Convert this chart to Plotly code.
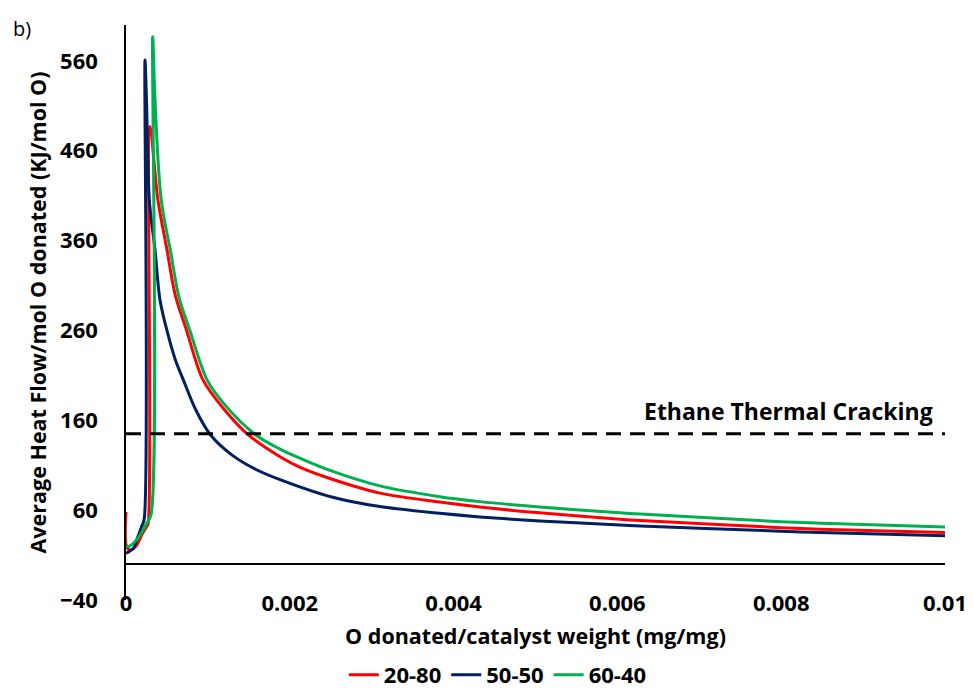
import plotly.graph_objects as go

# ---- data ----
x_2080 = [0, 0.000005, 0.00005, 0.00013, 0.00019, 0.00025, 0.00027, 0.000293, 0.00039, 0.0005,
          0.0006, 0.00074, 0.00094, 0.0012, 0.00149, 0.00188, 0.00212, 0.0025, 0.0031, 0.00383,
          0.00432, 0.00505, 0.00603, 0.00628, 0.008, 0.00847, 0.01]
y_2080 = [58, 20, 15.6, 21, 32, 41.5, 45, 487, 405, 350,
          300, 260, 205, 172, 144, 119.5, 108, 95, 79, 69,
          63.5, 57, 50, 48.5, 40.5, 38.8, 35]

x_5050 = [0, 0.00003, 0.00009, 0.00013, 0.00019, 0.000222, 0.000232, 0.00025, 0.000285, 0.000354,
          0.000415, 0.0005, 0.0006, 0.0007, 0.00085, 0.00103, 0.0013, 0.0016, 0.00188, 0.0025,
          0.0031, 0.00383, 0.00432, 0.00505, 0.00603, 0.00628, 0.008, 0.00847, 0.01]
y_5050 = [12, 13.5, 17.5, 26.7, 41.5, 50, 561, 517, 405, 350,
          294, 260, 228, 205, 172, 144, 121, 104.7, 94, 75,
          64, 56.5, 52.5, 48, 43.5, 42.5, 36.5, 35, 31.5]

x_6040 = [0, 0.000024, 0.00013, 0.00025, 0.000305, 0.000326, 0.000354, 0.00043, 0.00054, 0.00065,
          0.00078, 0.00099, 0.0012, 0.00158, 0.00188, 0.00212, 0.0025, 0.0031, 0.00383, 0.00432,
          0.00505, 0.00603, 0.00628, 0.008, 0.0085, 0.01]
y_6040 = [21, 19.3, 27, 45, 55, 587, 517, 405, 350, 296,
          260, 205, 178, 144, 128, 118, 104, 87, 75, 69.5,
          63.5, 57, 55.6, 47.2, 45.5, 41.2]

cracking_x = [0, 0.01]
cracking_y = [145, 145]

series_names = ["20-80", "50-50", "60-40"]
series_colors = ["#FF0000", "#002060", "#00B050"]

x_ticks = [0, 0.002, 0.004, 0.006, 0.008, 0.01]
x_tick_text = ["0", "0.002", "0.004", "0.006", "0.008", "0.01"]
y_ticks = [-40, 60, 160, 260, 360, 460, 560]

FONT = "Open Sans"
L, R, T, B = 126, 28, 25, 96
PW, PH = 973 - L - R, 696 - T - B

fig = go.Figure()
for name, xs, ys, col in zip(series_names, [x_2080, x_5050, x_6040],
                             [y_2080, y_5050, y_6040], series_colors):
    fig.add_trace(go.Scatter(x=xs, y=ys, mode="lines", name=name,
                             line=dict(color=col, width=3, shape="spline", smoothing=0.9)))

fig.add_trace(go.Scatter(x=cracking_x, y=cracking_y, mode="lines", showlegend=False,
                         line=dict(color="black", width=3, dash="15px,9px"),
                         hoverinfo="skip"))

fig.add_annotation(x=0.00988, y=170, xref="x", yref="y", text="<b>Ethane Thermal Cracking</b>",
                   showarrow=False, xanchor="right", yanchor="middle",
                   font=dict(family=FONT, size=23, color="black"))

fig.add_annotation(x=(11 - L) / PW, y=(696 - B - 28) / PH, xref="paper", yref="paper",
                   text="b)", showarrow=False, xanchor="left", yanchor="middle",
                   font=dict(family=FONT, size=20, color="black"))

fig.update_layout(
    width=973, height=696,
    margin=dict(l=L, r=R, t=T, b=B, autoexpand=False),
    paper_bgcolor="white", plot_bgcolor="white",
    font=dict(family=FONT, color="black"),
    showlegend=True,
    legend=dict(orientation="h", x=0.454, xanchor="center", y=-(696 - (696 - B)) / PH,
                yanchor="bottom",
                font=dict(family=FONT, size=22, color="black", weight="bold"),
                itemwidth=30, bgcolor="rgba(0,0,0,0)"),
    xaxis=dict(range=[0, 0.01], tickvals=x_ticks, ticktext=x_tick_text,
               showgrid=False, zeroline=False, showline=False, ticks="",
               ticklabelstandoff=-12, automargin=False,
               tickfont=dict(family=FONT, size=22, color="black", weight="bold"),
               title=dict(text="<b>O donated/catalyst weight (mg/mg)</b>", standoff=12,
                          font=dict(family=FONT, size=21.5, color="black"))),
    yaxis=dict(range=[-40, 600], tickvals=y_ticks, showgrid=False,
               zeroline=True, zerolinecolor="black", zerolinewidth=1.5,
               showline=True, linecolor="black", linewidth=1.5, ticks="",
               ticklabelstandoff=22, automargin=False,
               tickfont=dict(family=FONT, size=22, color="black", weight="bold"),
               title=dict(text="<b>Average Heat Flow/mol O donated (KJ/mol O)</b>", standoff=8,
                          font=dict(family=FONT, size=21.5, color="black"))),
)

fig.write_html("out.html")
